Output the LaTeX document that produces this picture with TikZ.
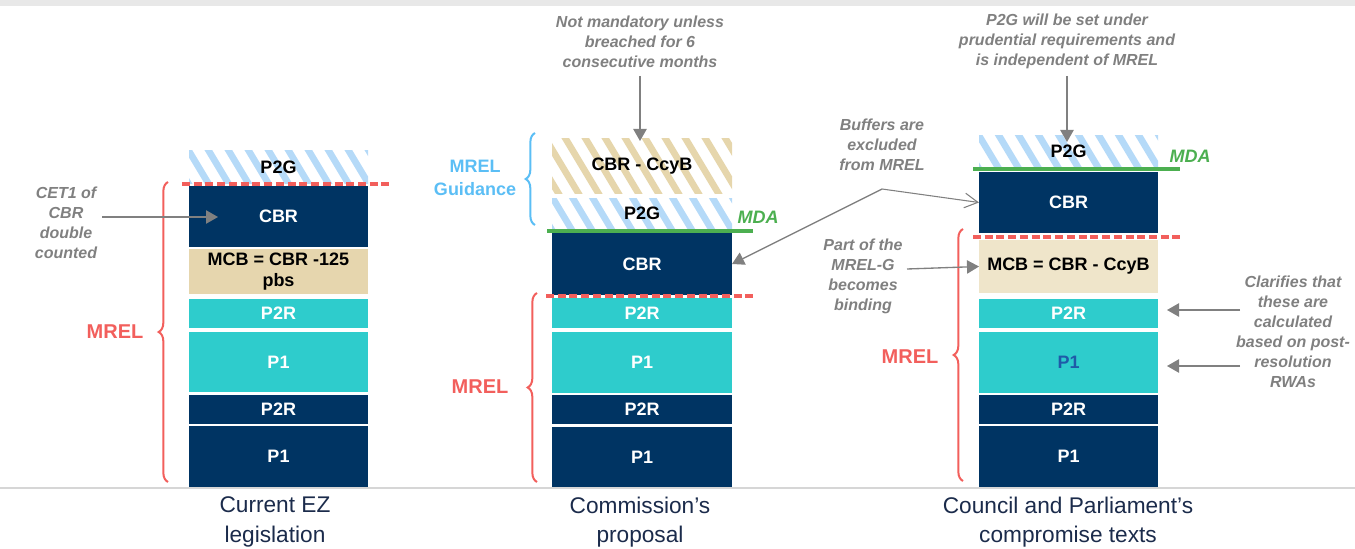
\documentclass[tikz,border=0pt]{standalone}
\usepackage{fontspec}
\setmainfont{Liberation Sans}
\usetikzlibrary{arrows.meta,decorations.pathreplacing,calc}
\definecolor{navy}{HTML}{003463}
\definecolor{cteal}{HTML}{2ECCCC}
\definecolor{ctan}{HTML}{E6D6AE}
\definecolor{ctanl}{HTML}{EFE5CA}
\definecolor{hblue}{HTML}{B5DAF8}
\definecolor{htan}{HTML}{E6D6AC}
\definecolor{cred}{HTML}{F25F5C}
\definecolor{cgreen}{HTML}{4CAF50}
\definecolor{cgray}{HTML}{808080}
\definecolor{lblue}{HTML}{5BBEF5}
\definecolor{ftxt}{HTML}{1B2B4B}
\definecolor{p1blue}{HTML}{1F5AA8}
\definecolor{topbar}{HTML}{E8E8E8}
\definecolor{baseln}{HTML}{D6D6D6}
\newcommand{\blk}[7]{\node[#6, minimum width={(#4-#2)*0.75pt}, minimum height={(#5-#3)*0.75pt}, anchor=north west] (#1) at (#2,#3) {#7};}
\tikzset{
  box/.style={inner sep=0pt, outer sep=0pt, font=\bfseries\fontsize{13.5}{16}\selectfont, align=center},
  nv/.style={box, fill=navy, text=white},
  tl/.style={box, fill=cteal, text=white},
  tn/.style={box, fill=ctan, text=black},
  tnl/.style={box, fill=ctanl, text=black},
  hatch/.style={box, text=black, path picture={\foreach \i in {-14,...,14} \draw[#1, line width=5pt] ($(path picture bounding box.center)+(\i*20-36,-60)$) -- ++(72,120);}},
  note/.style={text=cgray, font=\bfseries\itshape\fontsize{12}{15}\selectfont, align=center, inner sep=0pt},
  foot/.style={text=ftxt, font=\fontsize{17}{22}\selectfont, align=center, inner sep=0pt},
  mrel/.style={text=cred, font=\bfseries\fontsize{15}{18}\selectfont, inner sep=0pt},
  mda/.style={text=cgreen, font=\bfseries\itshape\fontsize{13.5}{16}\selectfont, inner sep=0pt},
  reddash/.style={draw=cred, line width=2.6pt, dash pattern=on 6pt off 2.8pt},
  greenln/.style={draw=cgreen, line width=2.6pt},
  redbrace/.style={draw=cred, line width=1.5pt, decorate, decoration={brace, amplitude=7pt}},
  bluebrace/.style={draw=lblue, line width=1.5pt, decorate, decoration={brace, amplitude=7pt}},
  garrow/.style={draw=cgray, line width=1pt, -{Triangle[length=9pt,width=10pt]}},
  garrowo/.style={draw=cgray, line width=0.8pt, -{Straight Barb[length=10pt,width=11pt]}},
}
\begin{document}
\begin{tikzpicture}[x=0.75pt,y=-0.75pt]
\useasboundingbox (0,0) rectangle (1355,549);
\fill[topbar] (0,0) rectangle (1355,6);
\draw[baseln, line width=1.2pt] (0,488) -- (1355,488);
% Left column
\blk{p2gL}{189}{151}{368}{183}{hatch=hblue}{P2G}
\blk{cbrL}{189}{186}{368}{247}{nv}{CBR}
\blk{mcbL}{189}{249}{368}{294}{tn}{MCB = CBR -125\\pbs}
\blk{p2rtL}{189}{299}{368}{328}{tl}{P2R}
\blk{p1tL}{189}{332}{368}{392}{tl}{P1}
\blk{p2rnL}{189}{395}{368}{424}{nv}{P2R}
\blk{p1nL}{189}{426}{368}{487}{nv}{P1}
\draw[reddash] (182,184) -- (390,184);
\draw[redbrace] (168,482) -- (168,182);
\node[mrel] (mrelL) at (115,332) {MREL};
\node[note] (cet) at (66,223) {CET1 of\\CBR\\double\\counted};
\coordinate (cetS) at (102,217);
\coordinate (cetE) at (218,217);
\draw[garrow] (cetS) -- (cetE);
\node[foot] (footL) at (275,522) {Current EZ\\legislation};
% Middle column
\blk{cbrcM}{552}{139}{732}{193}{hatch=htan}{CBR - CcyB}
\blk{p2gM}{552}{198}{732}{229}{hatch=hblue}{P2G}
\blk{cbrM}{552}{233}{732}{295}{nv}{CBR}
\blk{p2rtM}{552}{298}{732}{328}{tl}{P2R}
\blk{p1tM}{552}{332}{732}{393}{tl}{P1}
\blk{p2rnM}{552}{395}{732}{424}{nv}{P2R}
\blk{p1nM}{552}{427}{732}{487}{nv}{P1}
\draw[greenln] (547,231) -- (753,231);
\node[mda] (mdaM) at (758,217) {MDA};
\draw[reddash] (546,296) -- (754,296);
\draw[redbrace] (537,482) -- (537,293);
\node[mrel] (mrelM) at (480,387) {MREL};
\draw[bluebrace] (535,225) -- (535,133);
\node[mrel, text=lblue, font=\bfseries\fontsize{13.5}{17}\selectfont, align=center] (mrelG) at (475,178) {MREL\\Guidance};
\node[note] (notM) at (640,42) {Not mandatory unless\\breached for 6\\consecutive months};
\coordinate (notS) at (640,76);
\coordinate (notE) at (640,141);
\draw[garrow] (notS) -- (notE);
\node[foot] (footM) at (640,522) {Commission’s\\proposal};
% Right column
\blk{p2gR}{979}{136}{1158}{167}{hatch=hblue}{P2G}
\blk{cbrR}{979}{172}{1158}{233}{nv}{CBR}
\blk{mcbR}{979}{240}{1158}{293}{tnl}{MCB = CBR - CcyB}
\blk{p2rtR}{979}{299}{1158}{328}{tl}{P2R}
\blk{p1tR}{979}{332}{1158}{393}{tl, text=p1blue}{P1}
\blk{p2rnR}{979}{395}{1158}{424}{nv}{P2R}
\blk{p1nR}{979}{426}{1158}{487}{nv}{P1}
\draw[greenln] (973,169) -- (1180,169);
\node[mda] (mdaR) at (1190,156) {MDA};
\draw[reddash] (973,237) -- (1180,237);
\draw[redbrace] (963,481) -- (963,229);
\node[mrel] (mrelR) at (910,357) {MREL};
\node[note] (notR) at (1067,41) {P2G will be set under\\prudential requirements and\\is independent of MREL};
\coordinate (p2gS) at (1067,76);
\coordinate (p2gE) at (1067,142);
\draw[garrow] (p2gS) -- (p2gE);
\node[note] (buf) at (882,145) {Buffers are\\excluded\\from MREL};
\coordinate (bufS) at (882,189);
\draw[garrow] (bufS) -- (cbrM.east);
\draw[garrowo] (bufS) -- (cbrR.west);
\node[note] (part) at (863,276) {Part of the\\MREL-G\\becomes\\binding};
\coordinate (partS) at (907,269);
\draw[garrow] (partS) -- (mcbR.west);
\node[note] (clar) at (1293,332) {Clarifies that\\these are\\calculated\\based on post-\\resolution\\RWAs};
\coordinate (clS1) at (1240,310);
\coordinate (clE1) at (1167,310);
\coordinate (clS2) at (1240,366);
\coordinate (clE2) at (1167,366);
\draw[garrow] (clS1) -- (clE1);
\draw[garrow] (clS2) -- (clE2);
\node[foot] (footR) at (1068,522) {Council and Parliament’s\\compromise texts};
\end{tikzpicture}
\end{document}
